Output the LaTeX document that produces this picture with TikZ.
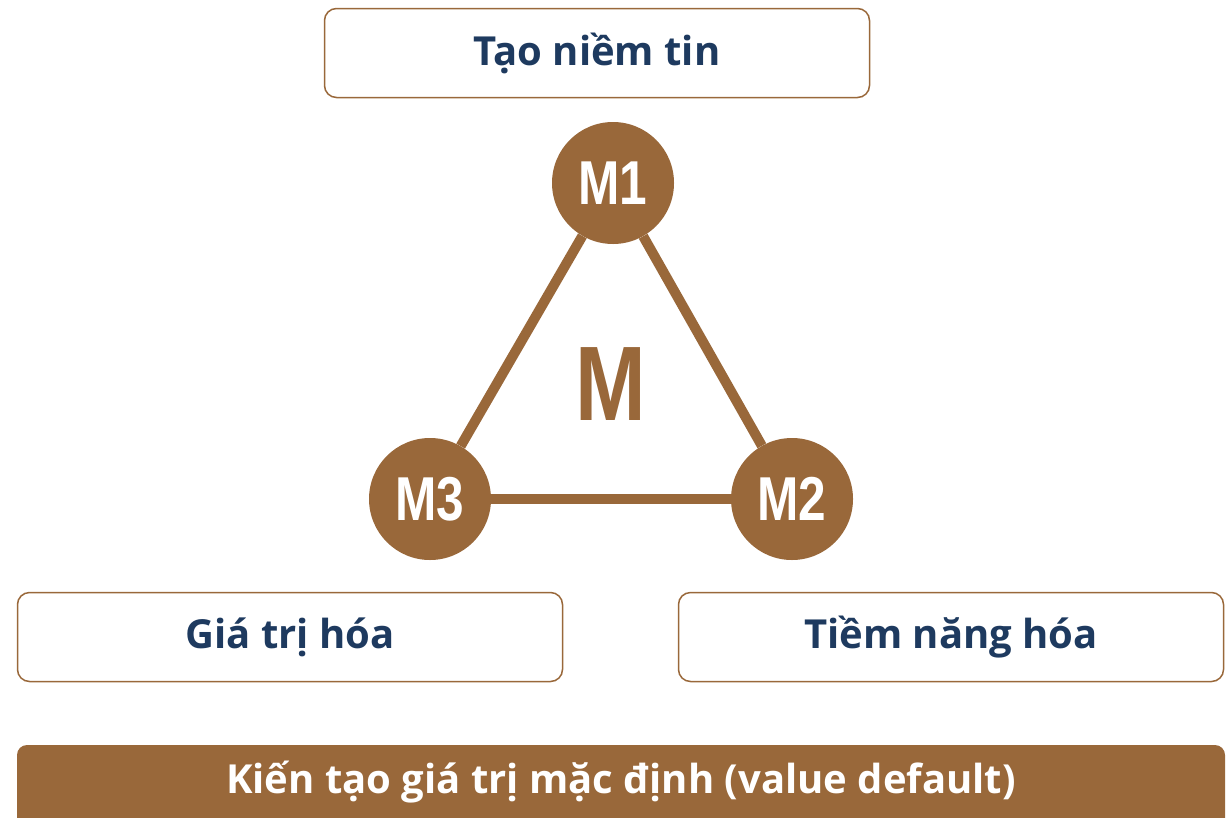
\documentclass[tikz,border=0pt]{standalone}
\usepackage{fontspec}
\usepackage{graphicx}
\setmainfont{Open Sans}
\newfontfamily\circfont{Liberation Sans}
\definecolor{mbrown}{HTML}{99683A}
\definecolor{mnavy}{HTML}{1E3A5F}
\tikzset{
  labelbox/.style={draw=mbrown, line width=1.5pt, rounded corners=12pt, minimum width=545pt, minimum height=89pt, text=mnavy, font=\bfseries\fontsize{40}{48}\selectfont, inner sep=0pt},
  mcircle/.style={circle, fill=mbrown, minimum size=122pt, inner sep=0pt, text=white, font=\circfont\bfseries\fontsize{62}{62}\selectfont},
  mline/.style={draw=mbrown, line width=10pt}
}
\begin{document}
\begin{tikzpicture}[x=1pt,y=-1pt]
\useasboundingbox (0,0) rectangle (1230,817);
\clip (0,0) rectangle (1230,817);
\node[labelbox] (top) at (597,53) {Tạo niềm tin};
\node[labelbox] (left) at (290,637) {Giá trị hóa};
\node[labelbox] (right) at (951,637) {Tiềm năng hóa};
\node[mcircle] (m1) at (613,183) {\scalebox{0.8}[1]{M1}};
\node[mcircle] (m2) at (792,499) {\scalebox{0.8}[1]{M2}};
\node[mcircle] (m3) at (430,499) {\scalebox{0.8}[1]{M3}};
\draw[mline] (m1) -- (m2);
\draw[mline] (m2) -- (m3);
\draw[mline] (m3) -- (m1);
\node[text=mbrown, font=\circfont\bfseries\fontsize{106}{106}\selectfont] (mm) at (611,384) {\scalebox{0.8}[1]{M}};
\fill[mbrown] (17,830) {[rounded corners=10pt] -- (17,745) -- (1225,745)} -- (1225,830) -- cycle;
\node[text=white, font=\bfseries\fontsize{40}{48}\selectfont] (bar) at (621,782) {Kiến tạo giá trị mặc định (value default)};
\end{tikzpicture}
\end{document}
